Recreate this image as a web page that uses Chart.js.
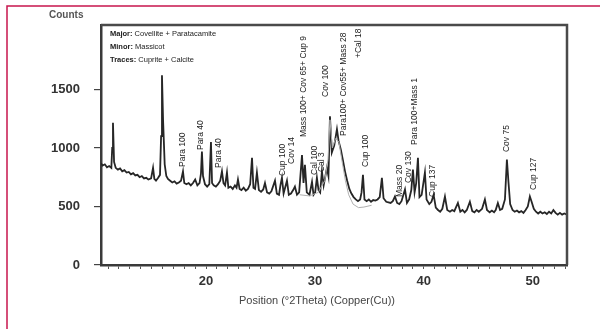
<!DOCTYPE html>
<html><head><meta charset="utf-8">
<script src="https://cdn.jsdelivr.net/npm/chart.js@4.4.1/dist/chart.umd.min.js"></script>
<style>html,body{margin:0;padding:0;background:#fff;}canvas{display:block;}</style>
</head><body>
<canvas id="c" width="600" height="329"></canvas>
<script>
const twoTheta = [10.35,10.5,10.7,10.9,11.1,11.3,11.38,11.45,11.55,11.7,11.9,12.1,12.3,12.5,12.7,12.9,13.1,13.3,13.5,13.7,13.9,14.1,14.3,14.5,14.7,14.95,15.13,15.25,15.4,15.6,15.77,15.87,15.95,16.05,16.2,16.35,16.5,16.7,16.9,17.1,17.3,17.5,17.7,17.88,18.0,18.2,18.4,18.6,18.8,19.0,19.2,19.4,19.53,19.62,19.72,19.9,20.1,20.3,20.45,20.55,20.7,20.9,21.1,21.3,21.46,21.6,21.75,21.92,22.05,22.25,22.45,22.65,22.8,22.93,23.08,23.25,23.45,23.65,23.85,24.05,24.22,24.35,24.5,24.67,24.85,25.05,25.25,25.41,25.6,25.8,26.0,26.33,26.5,26.7,26.85,26.97,27.12,27.43,27.6,27.8,28.0,28.16,28.35,28.55,28.81,28.95,29.08,29.25,29.5,29.73,29.87,30.02,30.18,30.33,30.48,30.64,30.8,31.1,31.24,31.38,31.55,31.77,32.02,32.17,32.37,32.56,32.76,32.96,33.16,33.35,33.55,33.75,33.95,34.15,34.28,34.41,34.55,34.75,34.95,35.15,35.35,35.55,35.75,35.95,36.15,36.3,36.55,36.75,36.95,37.15,37.35,37.55,37.75,37.95,38.27,38.45,38.65,38.85,39.0,39.15,39.3,39.46,39.6,39.8,40.1,40.25,40.5,40.7,40.9,41.1,41.3,41.5,41.7,41.94,42.15,42.4,42.6,42.8,43.13,43.35,43.55,43.75,43.95,44.23,44.45,44.65,44.85,45.05,45.35,45.61,45.8,46.05,46.25,46.45,46.6,46.8,47.0,47.2,47.45,47.63,47.78,47.93,48.15,48.35,48.55,48.75,48.95,49.15,49.35,49.55,49.74,49.9,50.1,50.3,50.5,50.7,50.9,51.1,51.3,51.5,51.7,51.9,52.1,52.3,52.5,52.7,52.9,53.15];
const counts = [870,850,860,835,845,830,1000,1215,880,830,815,825,800,810,790,795,775,785,765,770,750,760,740,745,730,740,830,735,720,745,770,1100,1620,1240,860,760,735,720,705,715,695,705,720,800,700,690,700,680,700,730,680,700,780,970,760,690,670,690,1050,700,680,670,690,720,800,700,680,790,660,670,650,680,660,730,650,640,660,635,650,690,915,660,650,790,640,625,645,700,620,610,630,720,610,600,690,745,610,720,600,610,640,670,600,620,940,700,855,620,600,710,600,620,745,640,620,800,680,830,760,1270,960,1020,1160,1060,990,900,800,720,650,610,580,560,545,560,620,770,560,545,560,540,555,550,560,580,745,570,540,535,530,545,585,530,520,545,645,530,560,640,815,620,700,915,580,600,790,560,520,540,600,490,470,455,480,585,470,455,470,460,530,455,470,450,470,540,460,450,470,455,480,560,470,450,465,450,470,530,470,480,560,900,700,520,470,455,465,450,460,445,470,500,585,540,480,455,440,455,440,450,435,455,440,470,445,430,445,430,440,430];
const fitTheta = [28.6,29.5,30.3,30.9,31.2,31.38,31.6,31.9,32.2,32.5,32.8,33.1,33.5,34.0,34.5,35.2];
const fitCounts = [600,590,620,720,900,1240,1000,1080,1050,880,720,600,520,490,495,510];
const yTickValues = [0,500,1000,1500];
const xTickLabels = [20,30,40,50];
const peakNames = ['Para 100','Para 40','Para 40','Cup 100','Cov 14','Mass 100+ Cov 65+ Cup 9','Cal 100','Cal 3','Cov 100','Para100+ Cov55+ Mass 28','+Cal 18','Cup 100','Mass 20','Cov 130','Para 100+Mass 1','Cup 137','Cov 75','Cup 127'];
const peakTheta = [17.88,19.53,21.19,27.06,27.89,28.99,30.0,30.64,31.01,32.66,34.04,34.68,37.81,38.63,39.18,40.84,47.63,50.11];
const peakBase = [837,982,829,760,863,1093,769,794,1435,1102,1768,837,581,700,1025,581,965,641];
const legendHeads = ['Major:','Minor:','Traces:'];
const legendTexts = ['Covellite + Paratacamite','Massicot','Cuprite + Calcite'];
const yTitle = 'Counts';
const xTitle = 'Position (\u00b02Theta) (Copper(Cu))';

const FONT = '"Liberation Sans", Arial, sans-serif';

const decor = {
  id: 'decor',
  beforeDraw(chart) {
    const ctx = chart.ctx;
    ctx.save();
    ctx.fillStyle = '#fff';
    ctx.fillRect(0, 0, chart.width, chart.height);
    ctx.strokeStyle = '#c8164e';
    ctx.lineWidth = 1.5;
    ctx.beginPath();
    ctx.moveTo(7, chart.height);
    ctx.lineTo(7, 6);
    ctx.lineTo(chart.width, 6);
    ctx.stroke();
    ctx.restore();
  },
  afterDraw(chart) {
    const ctx = chart.ctx;
    const a = chart.chartArea;
    const xs = chart.scales.x, ys = chart.scales.y;
    ctx.save();
    ctx.strokeStyle = '#4a4a4a';
    ctx.lineWidth = 2.5;
    ctx.beginPath();
    ctx.moveTo(a.left, a.top);
    ctx.lineTo(a.right, a.top);
    ctx.lineTo(a.right, a.bottom);
    ctx.stroke();
    ctx.fillStyle = '#555';
    ctx.font = 'bold 10px ' + FONT;
    ctx.textAlign = 'left';
    ctx.textBaseline = 'middle';
    ctx.fillText(yTitle, 49, 15);
    ctx.fillStyle = '#444';
    ctx.font = '11px ' + FONT;
    ctx.textAlign = 'center';
    ctx.fillText(xTitle, 317, 301);
    ctx.textAlign = 'left';
    ctx.fillStyle = '#222';
    legendHeads.forEach((h, i) => {
      const y = a.top + 9 + i * 13;
      ctx.font = 'bold 7.5px ' + FONT;
      ctx.fillText(h, a.left + 9, y);
      const w = ctx.measureText(h + ' ').width;
      ctx.font = '7.5px ' + FONT;
      ctx.fillText(legendTexts[i], a.left + 9 + w, y);
    });
    ctx.font = '8.5px ' + FONT;
    ctx.fillStyle = '#222';
    ctx.textBaseline = 'middle';
    peakNames.forEach((n, i) => {
      const px = xs.getPixelForValue(peakTheta[i]);
      const py = ys.getPixelForValue(peakBase[i]);
      ctx.save();
      ctx.translate(px, py);
      ctx.rotate(-Math.PI / 2);
      ctx.fillText(n, 0, 0);
      ctx.restore();
    });
    ctx.restore();
  }
};

new Chart(document.getElementById('c'), {
  type: 'line',
  data: {
    datasets: [
      { data: fitTheta.map((x, i) => ({ x, y: fitCounts[i] })), borderColor: '#b0b0b0', borderWidth: 1, pointRadius: 0, tension: 0 },
      { data: twoTheta.map((x, i) => ({ x, y: counts[i] })), borderColor: '#262626', borderWidth: 1.8, pointRadius: 0, tension: 0 }
    ]
  },
  options: {
    responsive: false,
    animation: false,
    layout: { padding: { top: 25, right: 33, left: 0, bottom: 0 } },
    plugins: { legend: { display: false }, tooltip: { enabled: false } },
    scales: {
      x: {
        type: 'linear', min: 10.35, max: 53.15,
        afterBuildTicks: s => { const t = []; for (let v = 11; v <= 53; v++) t.push({ value: v }); s.ticks = t; },
        afterFit: s => { s.height = 64; },
        ticks: { autoSkip: false, maxRotation: 0, padding: 5, color: '#333', font: { family: FONT, size: 13, weight: 'bold' },
          callback: v => xTickLabels.includes(v) ? String(v) : '' },
        grid: { drawOnChartArea: false, drawTicks: true, tickLength: 4, color: '#555', lineWidth: 1 },
        border: { color: '#3a3a3a', width: 2.5 }
      },
      y: {
        min: 0, max: 2050,
        afterBuildTicks: s => { s.ticks = yTickValues.map(v => ({ value: v })); },
        afterFit: s => { s.width = 101; },
        ticks: { padding: 14, color: '#333', font: { family: FONT, size: 13, weight: 'bold' }, callback: v => String(v) },
        grid: { drawOnChartArea: false, drawTicks: true, tickLength: 7, color: '#444', lineWidth: 1.2 },
        border: { color: '#3a3a3a', width: 2.5 }
      }
    }
  },
  plugins: [decor]
});
</script>
</body></html>
